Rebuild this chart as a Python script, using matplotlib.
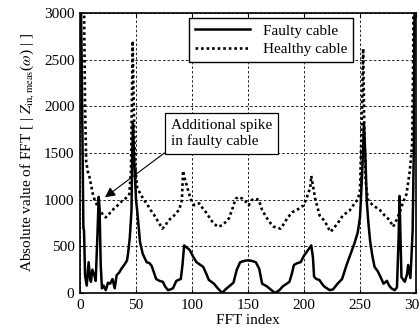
import matplotlib
matplotlib.use("Agg")
import matplotlib.pyplot as plt

plt.rcParams["font.family"] = ["Liberation Serif", "DejaVu Serif"]
plt.rcParams["mathtext.fontset"] = "stix"

# Faulty cable: FFT index vs |FFT|
faulty_x = [0, 1.5, 3, 3.6, 4.5, 6, 7.7, 9, 9.8, 11, 12.8, 14, 15.5, 16.7, 17.5, 18.5,
            19.6, 21, 23, 25, 27, 29, 31, 32.7, 35, 37, 40, 42, 43, 44.5, 46, 46.5,
            47.3, 48.5, 50, 51, 53.6, 56, 59.5, 62, 64, 66, 68, 71, 74, 76, 78.6, 81,
            83, 86, 88, 90, 91.5, 93, 95, 98, 101, 104, 107.7, 110, 113, 115, 119.6,
            123, 127, 130, 133, 137, 140, 143, 147, 150, 153, 157, 160, 162.6, 167,
            171, 174, 178, 181, 187, 189, 191, 194, 197, 200, 203, 206.5, 208, 209,
            211, 213.7, 216, 218, 223, 226, 230, 234, 238, 241, 245, 248, 250, 252,
            253.5, 255, 256, 257.5, 259, 261, 263, 266, 268, 271, 274, 276, 278, 281,
            283, 284.5, 285.3, 286.2, 287, 290, 292, 293, 295, 296, 297, 298, 299, 300]
faulty_y = [3800, 2500, 700, 670, 190, 80, 330, 150, 120, 250, 190, 130, 600, 1030, 900, 300,
            50, 80, 30, 110, 100, 150, 50, 190, 220, 260, 310, 350, 430, 600, 890, 1400,
            1820, 1400, 1000, 890, 545, 420, 330, 320, 290, 220, 150, 130, 120, 70, 30, 40,
            50, 130, 140, 150, 300, 510, 490, 460, 390, 330, 300, 280, 200, 140, 100,
            50, 0, 40, 70, 110, 250, 330, 345, 350, 345, 330, 260, 100, 70,
            30, 0, 30, 70, 120, 200, 300, 320, 330, 400, 450, 510, 380, 175,
            150, 140, 100, 70, 30, 40, 100, 150, 300, 400, 530, 650, 810, 1300,
            1820, 1400, 990, 750, 560, 400, 280, 230, 180, 100, 130, 80, 50, 30,
            60, 600, 1040, 600, 170, 120, 200, 300, 160, 400, 670, 1500, 3800, 3800]

# Healthy cable
healthy_x = [0, 3, 4.5, 5.5, 7, 8.5, 10, 11.5, 13, 14.5, 17, 19, 21, 23, 25, 27.7, 30,
             33.7, 37, 39.6, 42, 44, 45.5, 46.5, 47, 47.7, 49, 51, 54, 57, 60, 63, 66,
             69, 73.5, 76, 78, 81, 84, 86, 88.5, 91, 92, 93, 95.8, 99, 102, 104, 106.5,
             110, 112.5, 115, 117, 120, 123, 127, 130, 133, 136, 139, 142, 145, 148,
             150.6, 153, 155, 159.5, 162.6, 165, 167, 170, 173, 176, 179, 182, 185,
             189.5, 195, 199.7, 202.7, 205.6, 206.5, 208, 210, 214, 217, 219, 222, 224,
             226, 229, 232, 234.6, 238, 240.5, 243, 245, 248, 250, 251.5, 252.8, 253.8,
             255, 257, 259, 261.6, 264, 267.6, 270, 272, 276.5, 279.5, 281, 282.5, 285,
             287, 289, 291.5, 294.5, 296.6, 297.5, 298, 300]
healthy_y = [3800, 3800, 2000, 1410, 1300, 1240, 1150, 1060, 1000, 960, 900, 865, 830, 810, 840, 865, 900,
             940, 980, 1000, 1030, 1060, 1300, 2200, 2700, 2200, 1400, 1130, 1060, 1000, 950, 890, 840,
             780, 690, 720, 760, 800, 830, 860, 890, 1000, 1310, 1250, 1130, 1000, 940, 950, 960,
             900, 865, 820, 780, 740, 710, 725, 760, 800, 900, 1010, 1030, 1010, 980,
             940, 990, 1010, 1000, 890, 840, 800, 750, 710, 700, 690, 740, 800,
             865, 900, 940, 1030, 1130, 1255, 1150, 1010, 830, 790, 760, 690, 655,
             690, 730, 780, 830, 860, 880, 920, 960, 1000, 1100, 1800, 2620, 1800,
             1200, 1000, 970, 940, 920, 890, 860, 830, 780, 710, 740, 780, 850,
             920, 990, 1060, 1310, 1600, 2500, 3800, 3800]

x_ticks = [0, 50, 100, 150, 200, 250, 300]
y_ticks = [0, 500, 1000, 1500, 2000, 2500, 3000]

fig = plt.figure(figsize=(4.2, 3.33), dpi=100)
ax = fig.add_axes([80 / 420, 1 - 293 / 333, 336 / 420, 280 / 333])

ax.plot(faulty_x, faulty_y, color="black", lw=1.8, label="Faulty cable")
ax.plot(healthy_x, healthy_y, color="black", lw=1.9, linestyle=(0, (1, 1.1)),
        label="Healthy cable")

ax.set_xlim(0, 300)
ax.set_ylim(0, 3000)
ax.set_xticks(x_ticks)
ax.set_yticks(y_ticks)
ax.tick_params(direction="in", top=True, right=True, labelsize=11, length=3, pad=4)
ax.grid(True, color="black", linestyle=(0, (3, 2.5)), lw=0.6)
for sp in ax.spines.values():
    sp.set_linewidth(1.2)

ax.set_xlabel("FFT index", fontsize=11, labelpad=2)
ax.set_ylabel(r"Absolute value of FFT [ | $Z_{\mathrm{in,meas}}$($\omega$) | ]",
              fontsize=11, labelpad=6)

leg = ax.legend(loc="upper right", bbox_to_anchor=(0.8125, 0.982), borderaxespad=0,
                fontsize=11, fancybox=False, framealpha=1, edgecolor="black",
                handlelength=3.6, borderpad=0.4, labelspacing=0.3)
leg.get_frame().set_linewidth(1.0)

ax.annotate("Additional spike\nin faulty cable", xy=(22.3, 1025), xytext=(126.5, 1708),
            ha="center", va="center", multialignment="left", fontsize=11,
            bbox=dict(boxstyle="square,pad=0.4", fc="white", ec="black", lw=0.9),
            arrowprops=dict(arrowstyle="-|>", color="black", lw=0.8, relpos=(0, 0),
                            mutation_scale=15, shrinkA=0, shrinkB=0))

fig.savefig("out.png", dpi=100)
